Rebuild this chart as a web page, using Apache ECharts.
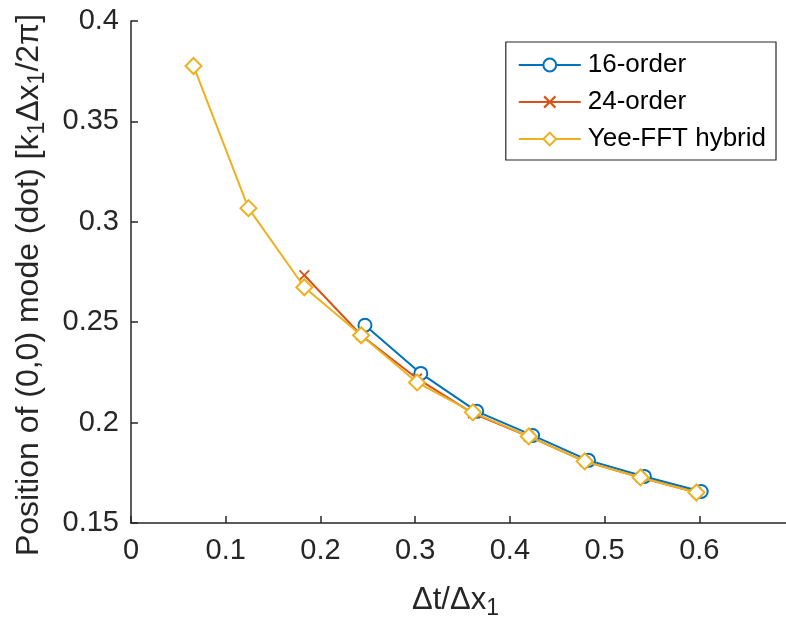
<!DOCTYPE html>
<html>
<head>
<meta charset="utf-8">
<script src="https://cdn.jsdelivr.net/npm/echarts@6/dist/echarts.min.js"></script>
<style>
html,body{margin:0;padding:0;background:#fff;}
#chart{width:786px;height:622px;}
</style>
</head>
<body>
<div id="chart"></div>
<script>
// ---- data ----
const seriesNames = ['16-order', '24-order', 'Yee-FFT hybrid'];
const x16 = [0.247, 0.306, 0.365, 0.424, 0.483, 0.542, 0.602];
const y16 = [0.2485, 0.2245, 0.2056, 0.1936, 0.1812, 0.1732, 0.1657];
const x24 = [0.183, 0.243, 0.302, 0.361, 0.420, 0.479, 0.538, 0.597];
const y24 = [0.2734, 0.2435, 0.2220, 0.2046, 0.1931, 0.1807, 0.1727, 0.1652];
const xYee = [0.066, 0.124, 0.183, 0.243, 0.302, 0.361, 0.420, 0.479, 0.538, 0.597];
const yYee = [0.3776, 0.3068, 0.2674, 0.2435, 0.2200, 0.2051, 0.1931, 0.1807, 0.1727, 0.1652];
const xTickLabels = ['0', '0.1', '0.2', '0.3', '0.4', '0.5', '0.6'];
const yTickLabels = ['0.15', '0.2', '0.25', '0.3', '0.35', '0.4'];

const pairs = (xs, ys) => xs.map((v, i) => [v, ys[i]]);
const crossPath = 'path://M0,1.2L1.2,0L5,3.8L8.8,0L10,1.2L6.2,5L10,8.8L8.8,10L5,6.2L1.2,10L0,8.8L3.8,5Z';
const colors = ['#0072BD', '#D95319', '#EDB120'];
const font = 'Liberation Sans, Arial, Helvetica, sans-serif';
const axisColor = '#262626';

const chart = echarts.init(document.getElementById('chart'), null, {renderer: 'canvas'});
chart.setOption({
  animation: false,
  backgroundColor: '#fff',
  color: colors,
  grid: {left: 131, right: -8, top: 21, bottom: 99, outerBoundsMode: 'none', containLabel: false},
  legend: {
    data: seriesNames,
    orient: 'vertical',
    right: 10,
    top: 42,
    padding: [10, 10, 8, 12],
    borderColor: axisColor,
    borderWidth: 1.2,
    backgroundColor: '#fff',
    itemWidth: 62,
    itemHeight: 16,
    itemGap: 11,
    lineStyle: {width: 2},
    textStyle: {fontFamily: font, fontSize: 26, color: '#000', padding: [0, 0, 0, 2]}
  },
  xAxis: {
    type: 'value',
    min: 0, max: 0.7, interval: 0.1,
    axisLine: {show: true, onZero: false, lineStyle: {color: axisColor, width: 1.5}},
    axisTick: {show: true, inside: true, length: 7, lineStyle: {color: axisColor, width: 1.5}},
    splitLine: {show: false},
    axisLabel: {
      fontFamily: font, fontSize: 29, color: axisColor, margin: 13,
      formatter: (v) => { const i = Math.round(v * 10); return i < xTickLabels.length ? xTickLabels[i] : ''; }
    },
    name: '{n|Δt/Δx}{s|1}',
    nameLocation: 'middle',
    nameGap: 58,
    nameTextStyle: {
      padding: [0, 14, 0, 0],
      rich: {
        n: {fontFamily: font, fontSize: 31, color: axisColor},
        s: {fontFamily: font, fontSize: 23, color: axisColor, padding: [16, 0, 0, 0]}
      }
    }
  },
  yAxis: {
    type: 'value',
    min: 0.15, max: 0.4, interval: 0.05,
    axisLine: {show: true, onZero: false, lineStyle: {color: axisColor, width: 1.5}},
    axisTick: {show: true, inside: true, length: 7, lineStyle: {color: axisColor, width: 1.5}},
    splitLine: {show: false},
    axisLabel: {
      fontFamily: font, fontSize: 29, color: axisColor, margin: 12,
      formatter: (v) => { const i = Math.round((v - 0.15) / 0.05); return yTickLabels[i]; }
    },
    name: '{n|Position of (0,0) mode (dot) [k}{s|1}{n|Δx}{s|1}{n|/2π]}',
    nameLocation: 'middle',
    nameGap: 82,
    nameTextStyle: {
      padding: [0, 26, 0, 0],
      rich: {
        n: {fontFamily: font, fontSize: 32, color: axisColor},
        s: {fontFamily: font, fontSize: 23, color: axisColor, padding: [16, 0, 0, 0]}
      }
    }
  },
  series: [
    {
      name: seriesNames[0], type: 'line', data: pairs(x16, y16),
      symbol: 'emptyCircle', symbolSize: 13,
      lineStyle: {width: 2, color: colors[0]},
      itemStyle: {color: colors[0], borderWidth: 2},
      z: 2
    },
    {
      name: seriesNames[1], type: 'line', data: pairs(x24, y24),
      symbol: crossPath, symbolSize: 11,
      lineStyle: {width: 2, color: colors[1]},
      itemStyle: {color: colors[1]},
      z: 3
    },
    {
      name: seriesNames[2], type: 'line', data: pairs(xYee, yYee),
      symbol: 'emptyDiamond', symbolSize: 16,
      lineStyle: {width: 2, color: colors[2]},
      itemStyle: {color: colors[2], borderWidth: 2},
      z: 4
    }
  ]
});
</script>
</body>
</html>
